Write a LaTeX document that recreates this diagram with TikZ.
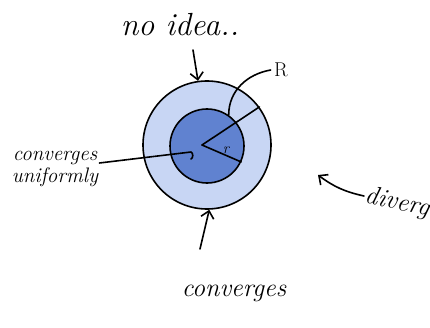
\documentclass[tikz,border=0pt]{standalone}
\usepackage{tikz}
\usetikzlibrary{arrows.meta,positioning,calc}
\definecolor{paleblue}{RGB}{200,214,244}
\definecolor{deepblue}{RGB}{96,130,208}
\tikzset{pen/.style={line width=1.6pt,line cap=round,line join=round},
  barb/.style={pen,-{Straight Barb[length=7pt,width=13pt]}},
  hand/.style={font=\itshape\fontsize{26}{26}\selectfont,inner sep=1pt}}

\begin{document}
\begin{tikzpicture}[x=1pt,y=1pt]
\useasboundingbox (0,0) rectangle (430,327);
\clip (0,0) rectangle (430,327);
% disc of convergence
\node[circle,draw,pen,fill=paleblue,minimum size=128pt,inner sep=0pt] (outer) at (207,182) {};
\node[circle,draw,pen,fill=deepblue,minimum size=74pt,inner sep=0pt] (inner) at (207,181) {};
\coordinate (ctr) at (202,182);
\draw[pen] (ctr) -- (outer.36);
\draw[pen] (ctr) -- (inner.-25);
\node[font=\fontsize{15}{15}\selectfont\itshape] (rlab) at (226,177) {r};
\node[font=\fontsize{20}{20}\selectfont] (Rlab) at (281,257) {R};
\draw[pen] (Rlab.west) to[out=190,in=90] (inner.55);
% labels
\node[hand,font=\itshape\fontsize{32}{32}\selectfont] (idea) at (180,302) {no idea..};
\node[hand] (conv) at (234,34) {converges};
\node[hand,font=\itshape\fontsize{21}{22}\selectfont,align=center] (unif) at (55,158) {converges\\uniformly};
\node[hand,rotate=-12,anchor=west] (div) at (364,131) {diverges};
\coordinate (topstart) at (193,277);
\coordinate (botstart) at (200,78);
\coordinate (divtip) at (318,152);
\coordinate (hook) at (191,175);
\draw[barb] (topstart) -- (outer.98);
\draw[barb] (botstart) -- (outer.-88);
\draw[barb] (div.west) to[bend left=12] (divtip);
\draw[pen] (unif.east |- 0,164) -- (hook) to[bend left=60] ([yshift=-7pt]hook);
\end{tikzpicture}
\end{document}
